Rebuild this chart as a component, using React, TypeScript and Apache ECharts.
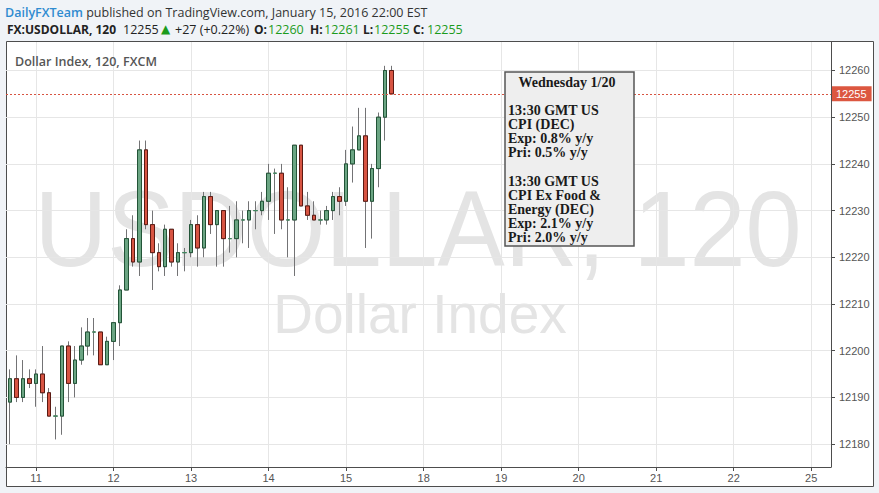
import React, { useEffect, useRef } from 'react';
import * as echarts from 'echarts';

// Day labels at every 12th two-hour slot (Monday 11 00:00 = slot 0)
const dayLabels = ['11', '12', '13', '14', '15', '18', '19', '20', '21', '22', '25'];
const daySlots = [0, 12, 24, 36, 48, 60, 72, 84, 96, 108, 120];
const priceTicks = [12180, 12190, 12200, 12210, 12220, 12230, 12240, 12250, 12260];
const firstBarSlot = -4;

const opens = [
  12189, 12194, 12190, 12194, 12193, 12195, 12191, 12186, 12186, 12201,
  12193, 12198, 12201, 12204, 12204, 12197, 12202, 12206, 12213, 12224,
  12219, 12243, 12227, 12221, 12218, 12226, 12219, 12221, 12221, 12227,
  12222, 12233, 12227, 12230, 12224, 12224, 12228, 12228, 12230, 12230,
  12232, 12238, 12238, 12228, 12228, 12244, 12231, 12229, 12228, 12228,
  12230, 12233, 12232, 12240, 12243, 12246, 12232, 12239, 12250, 12260,
];
const closes = [
  12194, 12190, 12194, 12193, 12195, 12191, 12186, 12186, 12201, 12193,
  12198, 12201, 12204, 12204, 12197, 12202, 12206, 12213, 12224, 12219,
  12243, 12227, 12221, 12218, 12226, 12219, 12221, 12221, 12227, 12222,
  12233, 12227, 12230, 12224, 12224, 12228, 12228, 12230, 12230, 12232,
  12238, 12238, 12228, 12228, 12244, 12231, 12229, 12228, 12228, 12230,
  12233, 12232, 12240, 12243, 12246, 12232, 12239, 12250, 12260, 12255,
];
const lows = [
  12180, 12189, 12189, 12192, 12188, 12189, 12186, 12181, 12182, 12189,
  12190, 12197, 12199, 12199, 12197, 12197, 12198, 12201, 12213, 12218,
  12216, 12226, 12213, 12217, 12216, 12218, 12216, 12217, 12220, 12218,
  12220, 12225, 12218, 12218, 12221, 12220, 12223, 12222, 12226, 12229,
  12228, 12225, 12226, 12220, 12216, 12231, 12228, 12228, 12227, 12227,
  12228, 12229, 12231, 12236, 12243, 12222, 12224, 12235, 12245, 12255,
];
const highs = [
  12196, 12199, 12198, 12196, 12196, 12201, 12192, 12188, 12201, 12202,
  12201, 12205, 12207, 12207, 12204, 12203, 12206, 12214, 12226, 12229,
  12245, 12245, 12230, 12223, 12227, 12226, 12223, 12222, 12228, 12229,
  12234, 12234, 12230, 12230, 12231, 12232, 12230, 12232, 12232, 12234,
  12240, 12239, 12240, 12235, 12244, 12244, 12234, 12232, 12230, 12231,
  12234, 12235, 12243, 12248, 12252, 12252, 12240, 12251, 12261, 12261,
];
const lastPrice = 12255;

const noteTitle = 'Wednesday 1/20';
const noteLines = [
  '13:30 GMT US', 'CPI (DEC)', 'Exp: 0.8% y/y', 'Pri: 0.5% y/y', '',
  '13:30 GMT US', 'CPI Ex Food &', 'Energy (DEC)', 'Exp: 2.1% y/y', 'Pri: 2.0% y/y',
];

// header line 2 segments: [text, x, kind]
const quoteSegments: [string, number, string][] = [
  ['FX:USDOLLAR, 120', 7, 'b'],
  ['12255', 123, 'n'],
  ['▲', 161, 't'],
  ['+27 (+0.22%)', 175, 'n'],
  ['O:', 254, 'b'],
  ['12260', 268, 'g'],
  ['H:', 310, 'b'],
  ['12261', 324, 'g'],
  ['L:', 363, 'b'],
  ['12255', 374, 'g'],
  ['C:', 413, 'b'],
  ['12255', 427, 'g'],
];

const UP = '#6ba583';
const DOWN = '#d75442';
const UP_BORDER = '#225437';
const DOWN_BORDER = '#5b1a13';
const WICK = '#737375';
const SANS = 'Open Sans, Noto Sans, sans-serif';
const SERIF = 'Liberation Serif, Times New Roman, serif';

export default function App() {
  const ref = useRef<HTMLDivElement>(null);
  useEffect(() => {
    if (!ref.current) return;
    const chart = echarts.init(ref.current, null, { renderer: 'svg' });
    const full = opens.map((o, i) => [i + firstBarSlot, o, closes[i], lows[i], highs[i]]);
    const bodies = opens.map((o, i) => [
      i + firstBarSlot, o, closes[i], Math.min(o, closes[i]), Math.max(o, closes[i]),
    ]);
    const quoteTexts = quoteSegments.map(([t, x, k]) => ({
      type: 'text',
      z: 20,
      style: {
        x, y: 29, text: t, verticalAlign: 'middle',
        font: k === 'b' ? 'bold 12px ' + SANS : k === 't' ? '12px DejaVu Sans, sans-serif' : '12.5px ' + SANS,
        fill: k === 'g' || k === 't' ? '#1c9b1c' : '#222',
      },
    }));
    const noteTexts = noteLines
      .map((t, k) => ({ t, k }))
      .filter((d) => d.t !== '')
      .map(({ t, k }) => ({
        type: 'text',
        z: 31,
        style: {
          x: 508, y: 110.5 + k * 14.15, text: t, verticalAlign: 'middle',
          font: 'bold 14px ' + SERIF, fill: '#1a1a1a',
        },
      }));
    const option: any = {
      animation: false,
      backgroundColor: '#f0f3f7',
      grid: { left: 6, right: 48, top: 42, bottom: 26 },
      xAxis: {
        type: 'value',
        min: -4.65,
        max: 123.06,
        axisLine: { show: true, onZero: false, lineStyle: { color: '#4d4d4d', width: 1 } },
        axisTick: { show: true, length: 4, customValues: daySlots, lineStyle: { color: '#4d4d4d' } },
        axisLabel: {
          customValues: daySlots,
          color: '#555',
          fontSize: 11,
          margin: 5,
          fontFamily: 'Liberation Sans, Arial, sans-serif',
          formatter: (v: number) => {
            const k = daySlots.indexOf(Math.round(v));
            return k >= 0 ? dayLabels[k] : '';
          },
        },
        splitLine: { show: true, lineStyle: { color: '#e6e6e6' } },
      },
      yAxis: {
        type: 'value',
        position: 'right',
        min: 12175.1,
        max: 12266.1,
        axisLine: { show: true, onZero: false, lineStyle: { color: '#4d4d4d', width: 1 } },
        axisTick: { show: true, length: 4, customValues: priceTicks, lineStyle: { color: '#4d4d4d' } },
        axisLabel: {
          customValues: priceTicks,
          color: '#555',
          fontSize: 11,
          margin: 8,
          fontFamily: 'Liberation Sans, Arial, sans-serif',
          formatter: (v: number) => String(Math.round(v)),
        },
        splitLine: { show: true, lineStyle: { color: '#e6e6e6' } },
      },
      series: [
        {
          type: 'candlestick',
          silent: true,
          barWidth: 4,
          data: full,
          z: 3,
          itemStyle: {
            color: 'rgba(0,0,0,0)',
            color0: 'rgba(0,0,0,0)',
            borderColor: WICK,
            borderColor0: WICK,
            borderColorDoji: WICK,
            borderWidth: 1,
          },
        },
        {
          type: 'candlestick',
          silent: true,
          barWidth: 4,
          data: bodies,
          z: 4,
          itemStyle: {
            color: UP,
            color0: DOWN,
            borderColor: UP_BORDER,
            borderColor0: DOWN_BORDER,
            borderColorDoji: '#3f8a5e',
            borderWidth: 1,
          },
          markLine: {
            silent: true,
            symbol: ['none', 'none'],
            lineStyle: { color: '#d75442', type: [2, 2], width: 1 },
            label: {
              show: true,
              position: 'end',
              distance: 1,
              formatter: String(lastPrice),
              color: '#fff',
              backgroundColor: '#dc5740',
              padding: [2, 5, 2, 4],
              fontSize: 11,
              fontFamily: 'Liberation Sans, Arial, sans-serif',
            },
            data: [{ yAxis: lastPrice }],
          },
        },
      ],
      graphic: [
        {
          type: 'rect',
          z: -10,
          shape: { x: 6.5, y: 41.5, width: 867, height: 445 },
          style: { fill: '#ffffff', stroke: '#4d4d4d', lineWidth: 1 },
          silent: true,
        },
        {
          type: 'text',
          z: -5,
          x: 418,
          y: 228,
          scaleX: 0.933,
          style: {
            x: 0, y: 0, text: 'USDOLLAR, 120', align: 'center', verticalAlign: 'middle',
            font: '108px Liberation Sans, Arial, sans-serif', fill: '#e4e4e4',
          },
          silent: true,
        },
        {
          type: 'text',
          z: -5,
          style: {
            x: 420, y: 314, text: 'Dollar Index', align: 'center', verticalAlign: 'middle',
            font: '55px Liberation Sans, Arial, sans-serif', fill: '#e4e4e4',
          },
          silent: true,
        },
        {
          type: 'text',
          z: 20,
          style: {
            x: 15, y: 61, text: 'Dollar Index, 120, FXCM', verticalAlign: 'middle',
            font: '600 12.5px ' + SANS, fill: '#555',
          },
        },
        {
          type: 'text',
          z: 20,
          style: {
            x: 5, y: 12, verticalAlign: 'middle',
            text: '{a|DailyFXTeam} published on TradingView.com, January 15, 2016 22:00 EST',
            font: '12.5px ' + SANS, fill: '#333',
            rich: { a: { fill: '#2f8bd0', fontWeight: 600, fontSize: 12.5, fontFamily: SANS } },
          },
        },
        ...quoteTexts,
        {
          type: 'rect',
          z: 30,
          shape: { x: 505, y: 72, width: 129, height: 174 },
          style: { fill: '#eeeeee', stroke: '#555', lineWidth: 1.5 },
        },
        {
          type: 'text',
          z: 31,
          style: {
            x: 567, y: 82, text: noteTitle, align: 'center', verticalAlign: 'middle',
            font: 'bold 14px ' + SERIF, fill: '#1a1a1a',
          },
        },
        ...noteTexts,
      ],
    };
    chart.setOption(option);
    return () => chart.dispose();
  }, []);
  return (
    <div
      ref={ref}
      style={{ position: 'fixed', left: 0, top: 0, width: 879, height: 493 }}
    />
  );
}
